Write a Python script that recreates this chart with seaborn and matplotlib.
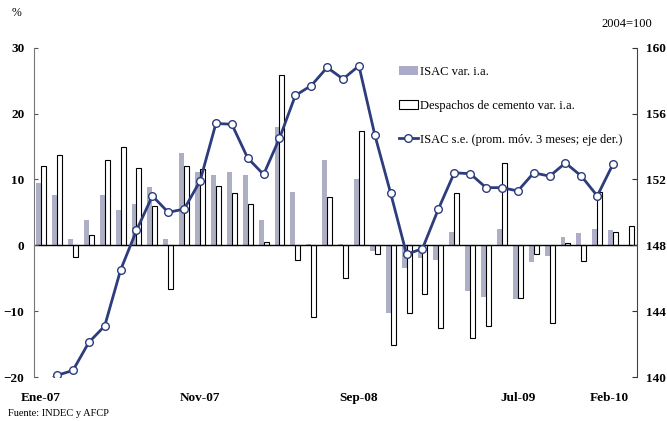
import numpy as np
import matplotlib.pyplot as plt
import seaborn as sns
import pandas as pd
from matplotlib.patches import Patch
from matplotlib.lines import Line2D

# monthly data, Ene-07 .. Feb-10
isac_ia = [9.5, 7.6, 1.0, 3.8, 7.7, 5.3, 6.3, 8.8, 1.0, 14.0,
           11.1, 10.6, 11.1, 10.6, 3.8, 17.9, 8.1, 0.25, 13.0, 0.2,
           10.1, -0.9, -10.3, -3.4, -2.0, -2.3, 2.0, -7.0, -7.9, 2.5,
           -8.1, -2.6, -1.7, 1.3, 1.9, 2.5, 2.3, np.nan]
cemento_ia = [12.1, 13.7, -1.8, 1.5, 13.0, 14.9, 11.8, 6.0, -6.7, 12.1,
              11.6, 9.0, 8.0, 6.3, 0.45, 25.9, -2.2, -10.9, 7.4, -5.0,
              17.3, -1.3, -15.1, -10.3, -7.4, -12.5, 7.9, -14.1, -12.2, 12.5,
              -8.0, -1.3, -11.8, 0.35, -2.4, 8.1, 2.0, 3.0]
isac_se = [139.5, 140.1, 140.4, 142.1, 143.1, 146.5, 148.9, 151.0, 150.0, 150.2,
           151.9, 155.4, 155.35, 153.3, 152.3, 154.5, 157.1, 157.7, 158.8, 158.1,
           158.9, 154.7, 151.15, 147.45, 147.8, 150.2, 152.4, 152.35, 151.5, 151.5,
           151.3, 152.4, 152.2, 153.0, 152.2, 151.0, 152.95]

tick_pos = [0, 10, 20, 30, 37]
tick_labels = ['Ene-07', 'Nov-07', 'Sep-08', 'Jul-09', 'Feb-10']

lab_isac = 'ISAC var. i.a.'
lab_cem = 'Despachos de cemento var. i.a.'
lab_se = 'ISAC s.e. (prom. móv. 3 meses; eje der.)'

grey = '#a9abc9'
navy = '#2c3c7c'

plt.rcParams['font.family'] = ['Liberation Serif', 'DejaVu Serif']

n = len(cemento_ia)
df = pd.DataFrame({
    'mes': list(range(n)) * 2,
    'serie': [lab_isac] * n + [lab_cem] * n,
    'valor': isac_ia + cemento_ia,
})

fig = plt.figure(figsize=(6.67, 4.21), dpi=100)
ax = fig.add_axes([34 / 667, 1 - 377 / 421, (637 - 34) / 667, (377 - 47.7) / 421])

sns.barplot(data=df, x='mes', y='valor', hue='serie', order=list(range(n)),
            hue_order=[lab_isac, lab_cem], palette={lab_isac: grey, lab_cem: 'white'},
            width=0.62, edgecolor='black', linewidth=0.8, legend=False, ax=ax)
for bar in ax.containers[0]:
    bar.set_edgecolor('none')

ax.axhline(0, color='black', lw=1, zorder=1)
ax.set_ylim(-20, 30)
ax.set_xlim(-0.45, 37.5)
ax.set_yticks([-20, -10, 0, 10, 20, 30])
ax.set_xticks(tick_pos)
ax.set_xticklabels(tick_labels)
for t in ax.get_xticklabels():
    if t.get_text() == 'Feb-10':
        t.set_ha('right')
ax.set_xlabel('')
ax.set_ylabel('')
ax.tick_params(axis='x', length=0, pad=11, labelsize=9.5)
ax.tick_params(axis='y', direction='in', length=3, pad=7, labelsize=9.5, color='#555555')
for t in ax.get_xticklabels() + ax.get_yticklabels():
    t.set_fontweight('bold')
for s in ['top', 'bottom', 'right']:
    ax.spines[s].set_visible(False)
ax.spines['left'].set_color('#777777')

ax2 = ax.twinx()
sns.lineplot(x=list(range(len(isac_se))), y=isac_se, color=navy, lw=2,
             marker='o', markersize=5.5, markerfacecolor='white',
             markeredgecolor=navy, markeredgewidth=1, ax=ax2)
ax2.set_ylim(140, 160)
ax2.set_yticks([140, 144, 148, 152, 156, 160])
ax2.tick_params(axis='y', direction='in', length=3.5, pad=6.5, labelsize=9.5, color='#333333')
for t in ax2.get_yticklabels():
    t.set_fontweight('bold')
for s in ['top', 'bottom', 'left']:
    ax2.spines[s].set_visible(False)
ax2.spines['right'].set_color('#444444')

handles = [
    Patch(facecolor=grey, edgecolor='none'),
    Patch(facecolor='white', edgecolor='black', linewidth=0.8),
    Line2D([], [], color=navy, lw=2, marker='o', markersize=5.5,
           markerfacecolor='white', markeredgecolor=navy),
]
ax2.legend(handles, [lab_isac, lab_cem, lab_se], loc='upper left',
           bbox_to_anchor=((399 - 34) / 603, (377 - 66) / 329.3),
           frameon=False, fontsize=9.0, labelspacing=1.75, handlelength=1.5,
           handletextpad=0.2, borderpad=0, borderaxespad=0)

fig.text(17 / 667, 1 - 13 / 421, '%', fontsize=8.5, ha='center', va='center')
fig.text(627 / 667, 1 - 24 / 421, '2004=100', fontsize=9, ha='center', va='center')
fig.text(8 / 667, 1 - 414 / 421, 'Fuente: INDEC y AFCP', fontsize=7.5, ha='left', va='center')

fig.savefig('out.png', dpi=100)
